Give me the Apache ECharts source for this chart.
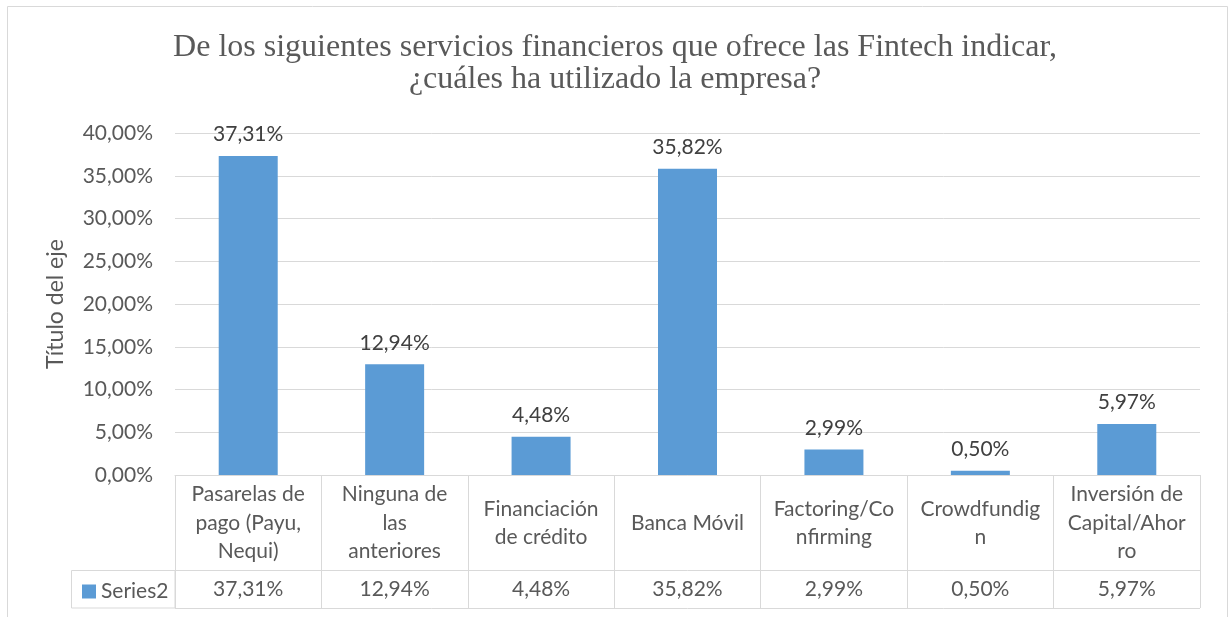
<!DOCTYPE html>
<html>
<head>
    <meta charset="utf-8">
    <title>Fintech</title>
    <script src="https://cdn.jsdelivr.net/npm/echarts@6/dist/echarts.min.js"></script>
</head>
<body style="margin:0;background:#fff">
    <div id="main" style="width:1230px;height:617px;"></div>
    <script type="text/javascript">

// categories as written in the table (line breaks as in the original)
var categories = [
    'Pasarelas de\npago (Payu,\nNequi)',
    'Ninguna de\nlas\nanteriores',
    'Financiación\nde crédito',
    'Banca Móvil',
    'Factoring/Co\nnfirming',
    'Crowdfundig\nn',
    'Inversión de\nCapital/Ahor\nro'
];
var seriesName = 'Series2';
var values = [37.31, 12.94, 4.48, 35.82, 2.99, 0.50, 5.97];

var gridCol = '#d9d9d9';
var textCol = '#595959';
var font = 'Lato';
var fs = 21;

function pct(v) {
    return v.toFixed(2).replace('.', ',') + '%';
}

var myChart = echarts.init(document.getElementById('main'));

var option = {
    animation: false,
    title: {
        text: 'De los siguientes servicios financieros que ofrece las Fintech indicar,\n¿cuáles ha utilizado la empresa?',
        left: 'center',
        top: 27,
        textStyle: {
            fontFamily: 'Liberation Serif',
            fontWeight: 'normal',
            fontSize: 32,
            lineHeight: 32,
            color: textCol
        }
    },
    legend: {
        data: [seriesName],
        left: 77,
        top: 576,
        icon: 'rect',
        itemWidth: 14,
        itemHeight: 14,
        itemGap: 5,
        textStyle: { fontFamily: font, fontSize: fs, color: textCol }
    },
    grid: { left: 175, right: 30, top: 133, bottom: 142 },
    xAxis: [
        {
            type: 'category',
            data: categories,
            axisLine: { show: true, lineStyle: { color: gridCol } },
            axisTick: { show: true, interval: 0, length: 95, lineStyle: { color: gridCol } },
            axisLabel: {
                interval: 0,
                margin: 48,
                verticalAlign: 'middle',
                lineHeight: 28.5,
                fontFamily: font,
                fontSize: fs,
                color: textCol
            }
        },
        {
            type: 'category',
            position: 'bottom',
            offset: 95,
            data: values.map(pct),
            axisLine: { show: true, lineStyle: { color: gridCol } },
            axisTick: { show: true, interval: 0, length: 38, lineStyle: { color: gridCol } },
            axisLabel: {
                interval: 0,
                margin: 19,
                verticalAlign: 'middle',
                fontFamily: font,
                fontSize: fs,
                color: textCol
            }
        }
    ],
    yAxis: {
        type: 'value',
        min: 0,
        max: 40,
        interval: 5,
        name: 'Título del eje',
        nameLocation: 'middle',
        nameRotate: 90,
        nameGap: 108,
        nameTextStyle: { fontFamily: font, fontSize: 23, color: textCol },
        axisLine: { show: false },
        axisTick: { show: false },
        splitLine: { lineStyle: { color: gridCol } },
        axisLabel: {
            margin: 22,
            fontFamily: font,
            fontSize: fs,
            color: textCol,
            formatter: function (v) { return pct(v); }
        }
    },
    series: [{
        name: seriesName,
        type: 'bar',
        data: values,
        barWidth: 59,
        itemStyle: { color: '#5b9bd5' },
        label: {
            show: true,
            position: 'top',
            distance: 11,
            fontFamily: font,
            fontSize: fs,
            color: '#404040',
            formatter: function (p) { return pct(p.value); }
        }
    }],
    graphic: [
        {
            type: 'rect',
            shape: { x: 7.5, y: 6.5, width: 1220, height: 640 },
            style: { fill: 'none', stroke: gridCol, lineWidth: 1 },
            silent: true
        },
        {
            type: 'rect',
            shape: { x: 71.5, y: 570.5, width: 103.5, height: 37.5 },
            style: { fill: 'none', stroke: gridCol, lineWidth: 1 },
            silent: true
        },
        {
            type: 'line',
            shape: { x1: 175, y1: 608.5, x2: 1200, y2: 608.5 },
            style: { stroke: gridCol, lineWidth: 1 },
            silent: true
        }
    ]
};

myChart.setOption(option);
    </script>
</body>
</html>
